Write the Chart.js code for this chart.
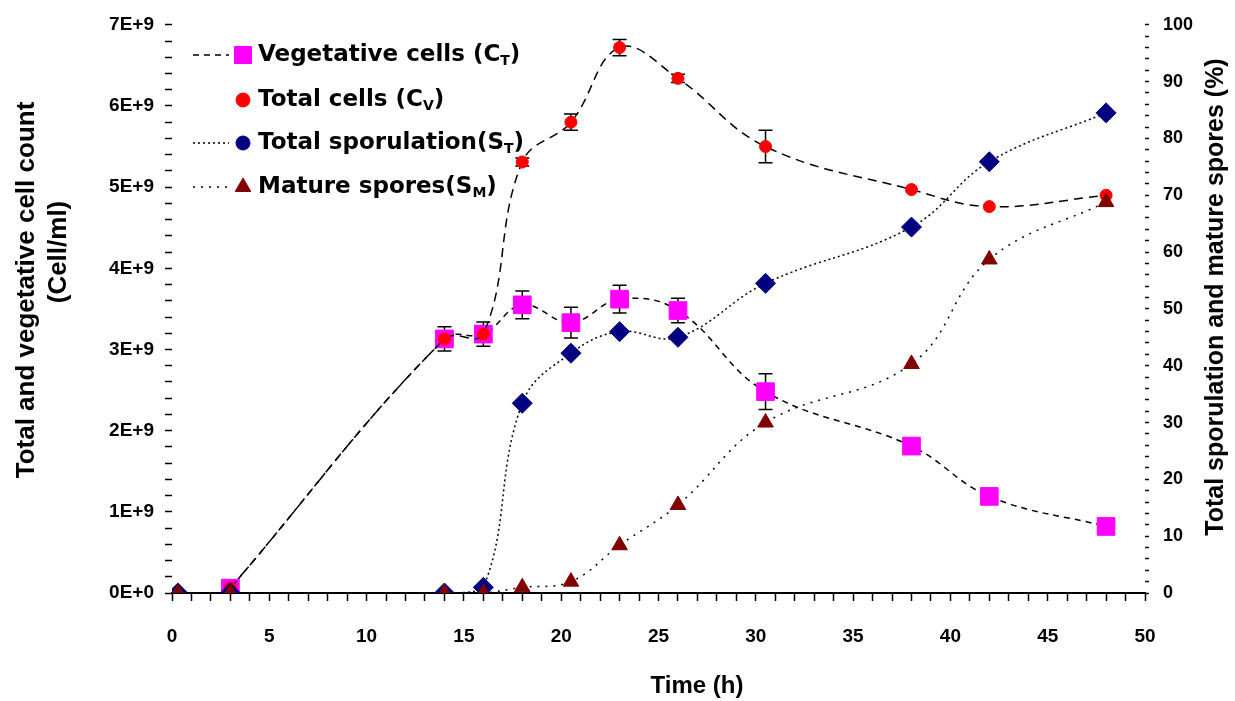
<!DOCTYPE html>
<html>
<head>
<meta charset="utf-8">
<title>Cell count and sporulation</title>
<script src="https://cdn.jsdelivr.net/npm/chart.js"></script>
<style>
  html, body { margin: 0; padding: 0; background: #fff; }
  #box { width: 1235px; height: 701px; }
</style>
</head>
<body>
<div id="box"><canvas id="myChart"></canvas></div>
<script>
// sampling times (h)
const times = [0.3, 3, 14, 16, 18, 20.5, 23, 26, 30.5, 38, 42, 48];

// left axis: cells/ml
const vegetative    = [null, 0.06e9, 3.13e9, 3.19e9, 3.55e9, 3.33e9, 3.62e9, 3.48e9, 2.48e9, 1.81e9, 1.19e9, 0.82e9];
const vegetativeErr = [0, 0, 0.15e9, 0.15e9, 0.17e9, 0.19e9, 0.17e9, 0.15e9, 0.22e9, 0.08e9, 0, 0];
const totalCells    = [null, 0.06e9, 3.13e9, 3.19e9, 5.31e9, 5.80e9, 6.72e9, 6.34e9, 5.50e9, 4.97e9, 4.76e9, 4.90e9];
const totalCellsErr = [0, 0, 0, 0, 0.05e9, 0.10e9, 0.10e9, 0.05e9, 0.20e9, 0, 0, 0];

// right axis: %
const totalSporulation = [0, 0, 0, 1, 33.4, 42.2, 46, 45, 54.5, 64.4, 75.9, 84.5];
const matureSpores     = [0, 0, 0, 0, 1, 2, 8.4, 15.5, 30, 40.3, 58.7, 68.8];

// ticks
const xTicks = [0, 5, 10, 15, 20, 25, 30, 35, 40, 45, 50];
const leftTicks = [0, 1e9, 2e9, 3e9, 4e9, 5e9, 6e9, 7e9];
const leftTickLabels = ['0E+0', '1E+9', '2E+9', '3E+9', '4E+9', '5E+9', '6E+9', '7E+9'];
const rightTicks = [0, 10, 20, 30, 40, 50, 60, 70, 80, 90, 100];

// legend text, split round the subscript
const legendNames = [
  ['Vegetative cells (C', 'T', ')'],
  ['Total cells (C', 'V', ')'],
  ['Total sporulation(S', 'T', ')'],
  ['Mature spores(S', 'M', ')']
];

const BOLD = '"Liberation Sans", Arial, sans-serif';

function toPoints(vals) {
  return times.map(function (t, i) { return { x: t, y: vals[i] }; });
}

// minor ticks between the labelled ones
function withMinor(major, parts) {
  let out = [];
  for (let i = 0; i < major.length; i++) {
    out.push({ value: major[i], major: true });
    if (i < major.length - 1) {
      let step = (major[i + 1] - major[i]) / parts;
      for (let k = 1; k < parts; k++) out.push({ value: major[i] + k * step });
    }
  }
  return out;
}

const extras = {
  id: 'extras',
  beforeDatasetsDraw(chart) {
    const c = chart.ctx;
    const xs = chart.scales.x, ys = chart.scales.y;
    c.save();
    c.strokeStyle = '#000';
    c.lineWidth = 1.5;
    [[vegetative, vegetativeErr], [totalCells, totalCellsErr]].forEach(function (pair) {
      let vals = pair[0], errs = pair[1];
      for (let i = 0; i < times.length; i++) {
        if (vals[i] === null || !errs[i]) continue;
        let px = xs.getPixelForValue(times[i]);
        let top = ys.getPixelForValue(vals[i] + errs[i]);
        let bot = ys.getPixelForValue(vals[i] - errs[i]);
        c.beginPath();
        c.moveTo(px, top); c.lineTo(px, bot);
        c.moveTo(px - 7, top); c.lineTo(px + 7, top);
        c.moveTo(px - 7, bot); c.lineTo(px + 7, bot);
        c.stroke();
      }
    });
    c.restore();
  },
  afterDraw(chart) {
    const c = chart.ctx;
    const ds = chart.data.datasets;
    const markers = ['rect', 'circle', 'circle', 'triangle'];
    const radii = [12, 7, 7, 9];
    const showLine = [true, false, true, true];
    const rowY = [55, 100, 143, 187];
    c.save();
    for (let i = 0; i < legendNames.length; i++) {
      let y = rowY[i];
      if (showLine[i]) {
        c.strokeStyle = '#000';
        c.lineWidth = 1.5;
        c.setLineDash(ds[i].borderDash);
        c.beginPath();
        c.moveTo(193, y); c.lineTo(229, y);
        c.stroke();
        c.setLineDash([]);
      }
      c.fillStyle = ds[i].pointBackgroundColor;
      c.strokeStyle = ds[i].pointBackgroundColor;
      c.lineWidth = 1;
      Chart.helpers.drawPoint(c, { pointStyle: markers[i], radius: radii[i], rotation: 0, borderWidth: 1 }, 243, y);

      let tx = 258;
      c.fillStyle = '#000';
      c.textBaseline = 'middle';
      c.textAlign = 'left';
      c.font = 'bold 23px "DejaVu Sans", sans-serif';
      c.fillText(legendNames[i][0], tx, y);
      tx += c.measureText(legendNames[i][0]).width;
      c.font = 'bold 14px "DejaVu Sans", sans-serif';
      c.fillText(legendNames[i][1], tx, y + 6);
      tx += c.measureText(legendNames[i][1]).width;
      c.font = 'bold 23px "DejaVu Sans", sans-serif';
      c.fillText(legendNames[i][2], tx, y);
    }

    // axis titles
    c.fillStyle = '#000';
    c.textAlign = 'center';
    c.textBaseline = 'middle';
    c.font = 'bold 24px ' + BOLD;
    c.fillText('Time (h)', 697, 686);

    c.font = 'bold 26px ' + BOLD;
    c.save();
    c.translate(27, 290);
    c.rotate(-Math.PI / 2);
    c.fillText('Total and vegetative cell count', 0, 0);
    c.restore();

    c.save();
    c.translate(59, 252);
    c.rotate(-Math.PI / 2);
    c.fillText('(Cell/ml)', 0, 0);
    c.restore();

    c.save();
    c.translate(1216, 297);
    c.rotate(-Math.PI / 2);
    c.font = 'bold 25px ' + BOLD;
    c.fillText('Total sporulation and mature spores (%)', 0, 0);
    c.restore();

    c.restore();
  }
};

const data = {
  datasets: [{
    label: 'Vegetative cells',
    data: toPoints(vegetative),
    yAxisID: 'y',
    order: 3,
    borderColor: '#000',
    borderWidth: 1.5,
    borderDash: [6, 5],
    tension: 0.4,
    pointStyle: 'rect',
    pointRadius: 12.5,
    pointBackgroundColor: '#ff00ff',
    pointBorderColor: '#ff00ff',
    pointBorderWidth: 1
  }, {
    label: 'Total cells',
    data: toPoints(totalCells),
    yAxisID: 'y',
    order: 2,
    borderColor: '#000',
    borderWidth: 1.5,
    borderDash: [9, 6],
    tension: 0.4,
    pointStyle: 'circle',
    pointRadius: 6,
    pointBackgroundColor: '#ff0000',
    pointBorderColor: '#ff0000',
    pointBorderWidth: 1
  }, {
    label: 'Total sporulation',
    data: toPoints(totalSporulation),
    yAxisID: 'y1',
    order: 1,
    borderColor: '#000',
    borderWidth: 1.5,
    borderDash: [2, 3],
    tension: 0.4,
    pointStyle: 'rectRot',
    pointRadius: 10,
    pointBackgroundColor: '#000080',
    pointBorderColor: '#000080',
    pointBorderWidth: 1
  }, {
    label: 'Mature spores',
    data: toPoints(matureSpores),
    yAxisID: 'y1',
    order: 0,
    borderColor: '#000',
    borderWidth: 1.5,
    borderDash: [2, 6],
    tension: 0.4,
    pointStyle: 'triangle',
    pointRadius: 9,
    pointBackgroundColor: '#800000',
    pointBorderColor: '#800000',
    pointBorderWidth: 1
  }]
};

const config = {
  type: 'line',
  data: data,
  options: {
    responsive: true,
    maintainAspectRatio: false,
    animation: false,
    layout: { padding: { top: 22, left: 0, right: 0, bottom: 0 } },
    plugins: {
      legend: { display: false },
      tooltip: { enabled: false }
    },
    scales: {
      x: {
        type: 'linear',
        min: 0,
        max: 50,
        afterBuildTicks: function (s) { s.ticks = withMinor(xTicks, 5); },
        afterFit: function (s) { s.height = 108; },
        ticks: {
          color: '#000',
          padding: 24,
          autoSkip: false,
          maxRotation: 0,
          font: { family: BOLD, size: 19, weight: 'bold' },
          callback: function (v) { return xTicks.indexOf(v) >= 0 ? String(v) : ''; }
        },
        grid: { drawOnChartArea: false, color: '#000', tickLength: 8, tickWidth: 1.5 },
        border: { display: true, color: '#000', width: 2 }
      },
      y: {
        position: 'left',
        min: 0,
        max: 7e9,
        afterBuildTicks: function (s) { s.ticks = withMinor(leftTicks, 5); },
        afterFit: function (s) { s.width = 172; },
        ticks: {
          color: '#000',
          padding: 11,
          autoSkip: false,
          font: { family: BOLD, size: 19, weight: 'bold' },
          callback: function (v) {
            let k = leftTicks.indexOf(v);
            return k >= 0 ? leftTickLabels[k] : '';
          }
        },
        grid: { drawOnChartArea: false, color: '#000', tickLength: 7, tickWidth: 1.5 },
        border: { display: false }
      },
      y1: {
        position: 'right',
        min: 0,
        max: 100,
        afterBuildTicks: function (s) { s.ticks = withMinor(rightTicks, 5); },
        afterFit: function (s) { s.width = 90; },
        ticks: {
          color: '#000',
          padding: 14,
          autoSkip: false,
          font: { family: BOLD, size: 18, weight: 'bold' },
          callback: function (v) { return rightTicks.indexOf(v) >= 0 ? String(v) : ''; }
        },
        grid: { drawOnChartArea: false, color: '#000', tickLength: 4, tickWidth: 1.5 },
        border: { display: false }
      }
    }
  },
  plugins: [extras]
};

const myChart = new Chart(document.getElementById('myChart'), config);
</script>
</body>
</html>
